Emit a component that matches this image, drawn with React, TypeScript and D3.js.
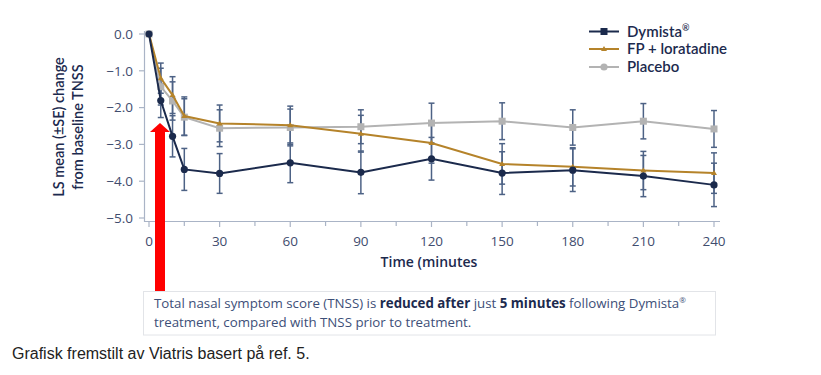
import React from "react";
import * as d3 from "d3";

const times = [0, 5, 10, 15, 30, 60, 90, 120, 150, 180, 210, 240];
const dymista = [0, -1.81, -2.78, -3.68, -3.79, -3.5, -3.76, -3.39, -3.78, -3.7, -3.86, -4.1];
const dymistaSE = [0, 0.46, 0.56, 0.57, 0.54, 0.54, 0.58, 0.58, 0.58, 0.58, 0.56, 0.59];
const fpLor = [0, -1.2, -1.66, -2.23, -2.43, -2.48, -2.71, -2.96, -3.53, -3.61, -3.71, -3.78];
const fpLorSE = [0, 0.41, 0.5, 0.52, 0.5, 0.52, 0.5, 0.55, 0.55, 0.52, 0.52, 0.55];
const placebo = [0, -1.43, -1.82, -2.26, -2.56, -2.54, -2.52, -2.42, -2.37, -2.54, -2.37, -2.58];
const placeboSE = [0, 0.5, 0.52, 0.5, 0.5, 0.5, 0.46, 0.54, 0.5, 0.48, 0.48, 0.5];
const yTicks = [0, -1, -2, -3, -4, -5];
const xTicks = [0, 30, 60, 90, 120, 150, 180, 210, 240];
const xMinorTicks = [15, 45, 75, 105, 135, 165, 195, 225];

const seriesNames = ["Dymista", "FP + loratadine", "Placebo"];
const seriesColors = ["#1b2a4c", "#b5832a", "#b3b3b3"];

const FONT = "'Open Sans', Lato, sans-serif";
const LFONT = "Lato, 'Open Sans', sans-serif";
const TXT = "#3f4d6e";
const NAVY = "#1c2a4e";
const AXIS = "#aab4c6";
const ERR = "#4d6285";

export default function App() {
  const x = d3.scaleLinear().domain([0, 240]).range([149, 714]);
  const y = d3.scaleLinear().domain([0, -5]).range([34, 218]);
  const line = d3
    .line<[number, number]>()
    .x((d) => x(d[0]))
    .y((d) => y(d[1]));

  const series = [
    { vals: dymista, se: dymistaSE, color: seriesColors[0], marker: "circle" },
    { vals: fpLor, se: fpLorSE, color: seriesColors[1], marker: "triangle" },
    { vals: placebo, se: placeboSE, color: seriesColors[2], marker: "square" },
  ];
  const drawOrder = [2, 1, 0];

  const marker = (kind: string, cx: number, cy: number, color: string, key: any) => {
    if (kind === "circle") return <circle key={key} cx={cx} cy={cy} r={3.6} fill={color} />;
    if (kind === "square")
      return <rect key={key} x={cx - 3.5} y={cy - 3.5} width={7} height={7} fill={color} />;
    return (
      <path
        key={key}
        d={`M${cx},${cy - 3} L${cx + 3},${cy + 2} L${cx - 3},${cy + 2} Z`}
        fill={color}
      />
    );
  };

  return (
    <svg
      width={821}
      height={375}
      style={{ position: "absolute", left: 0, top: 0, background: "#fff" }}
    >
      {/* Y axis */}
      <line x1={144.5} x2={144.5} y1={31} y2={222} stroke={AXIS} strokeWidth={1.2} />
      {yTicks.map((t) => (
        <g key={"yt" + t}>
          <line x1={139} x2={144.5} y1={y(t)} y2={y(t)} stroke={AXIS} strokeWidth={1.2} />
          <text
            x={133}
            y={y(t)}
            dy="0.35em"
            textAnchor="end"
            fontFamily={FONT}
            fontSize={13.5}
            fill={TXT}
          >
            {t === 0 ? "0.0" : "\u2212" + Math.abs(t).toFixed(1)}
          </text>
        </g>
      ))}
      {/* X axis */}
      <line x1={144} x2={720} y1={221.5} y2={221.5} stroke={AXIS} strokeWidth={1.2} />
      {xTicks.map((t) => (
        <g key={"xt" + t}>
          <line x1={x(t)} x2={x(t)} y1={221.5} y2={227} stroke={AXIS} strokeWidth={1.2} />
          <text
            x={x(t)}
            y={241}
            dy="0.35em"
            textAnchor="middle"
            fontFamily={FONT}
            fontSize={13.5}
            fill={TXT}
          >
            {t}
          </text>
        </g>
      ))}
      {xMinorTicks.map((t) => (
        <line
          key={"xm" + t}
          x1={x(t)}
          x2={x(t)}
          y1={221.5}
          y2={226}
          stroke={AXIS}
          strokeWidth={1.2}
        />
      ))}
      <text
        x={429}
        y={262}
        dy="0.35em"
        textAnchor="middle"
        fontFamily={FONT}
        fontSize={14}
        fontWeight={600}
        fill={NAVY}
      >
        Time (minutes
      </text>
      <g transform="translate(59,127) rotate(-90)">
        <text
          x={0}
          y={0}
          dy="0.35em"
          textAnchor="middle"
          fontFamily={LFONT}
          fontSize={14.5}
          fontWeight={600}
          fill={NAVY}
        >
          LS mean (±SE) change
        </text>
        <text
          x={0}
          y={18.5}
          dy="0.35em"
          textAnchor="middle"
          fontFamily={LFONT}
          fontSize={14.5}
          fontWeight={600}
          fill={NAVY}
        >
          from baseline TNSS
        </text>
      </g>

      {/* error bars */}
      {drawOrder.map((si) => {
        const s = series[si];
        return (
          <g key={"eb" + si}>
            {times.map((t, i) =>
              s.se[i] > 0 ? (
                <g key={i}>
                  <line
                    x1={x(t)}
                    x2={x(t)}
                    y1={y(s.vals[i] + s.se[i])}
                    y2={y(s.vals[i] - s.se[i])}
                    stroke={ERR}
                    strokeWidth={1.5}
                  />
                  <line
                    x1={x(t) - 3}
                    x2={x(t) + 3}
                    y1={y(s.vals[i] + s.se[i])}
                    y2={y(s.vals[i] + s.se[i])}
                    stroke={ERR}
                    strokeWidth={1.5}
                  />
                  <line
                    x1={x(t) - 3}
                    x2={x(t) + 3}
                    y1={y(s.vals[i] - s.se[i])}
                    y2={y(s.vals[i] - s.se[i])}
                    stroke={ERR}
                    strokeWidth={1.5}
                  />
                </g>
              ) : null
            )}
          </g>
        );
      })}

      {/* lines */}
      {drawOrder.map((si) => {
        const s = series[si];
        const pts = times.map((t, i) => [t, s.vals[i]] as [number, number]);
        return (
          <g key={"ln" + si}>
            <path d={line(pts) || ""} fill="none" stroke={s.color} strokeWidth={2} />
            {pts.map((p, i) => marker(s.marker, x(p[0]), y(p[1]), s.color, i))}
          </g>
        );
      })}

      {/* legend */}
      {seriesNames.map((name, i) => {
        const ly = [31.5, 49, 67][i];
        const kinds = ["square", "triangle", "circle"];
        return (
          <g key={"lg" + i}>
            <line x1={589} x2={619} y1={ly} y2={ly} stroke={seriesColors[i]} strokeWidth={2} />
            {marker(kinds[i], 604, ly, seriesColors[i], "m")}
            <text
              x={627}
              y={ly}
              dy="0.35em"
              fontFamily={LFONT}
              fontSize={15}
              fontWeight={600}
              fill={NAVY}
            >
              {name}
              {i === 0 ? (
                <tspan fontSize={9} dy="-0.6em">
                  ®
                </tspan>
              ) : null}
            </text>
          </g>
        );
      })}

      {/* red arrow */}
      <rect x={155} y={131} width={10} height={160} fill="#ff0000" />
      <path d="M160,123 L170,132 L150,132 Z" fill="#ff0000" />

      {/* note box */}
      <rect x={143.5} y={291.5} width={572} height={43.5} fill="#fff" stroke="#e2e4e8" strokeWidth={1} />
      <text x={154} y={303} dy="0.35em" fontFamily={FONT} fontSize={13.3} fill="#3d4f78">
        Total nasal symptom score (TNSS) is{" "}
        <tspan fontWeight={700} fill={NAVY}>
          reduced after
        </tspan>{" "}
        just{" "}
        <tspan fontWeight={700} fill={NAVY}>
          5 minutes
        </tspan>{" "}
        following Dymista
        <tspan fontSize={8} dy="-0.6em">
          ®
        </tspan>
      </text>
      <text x={154} y={322} dy="0.35em" fontFamily={FONT} fontSize={13.3} fill="#3d4f78">
        treatment, compared with TNSS prior to treatment.
      </text>

      <text
        x={12}
        y={353}
        dy="0.35em"
        fontFamily="'Liberation Sans', Arial, sans-serif"
        fontSize={16}
        fill="#222"
      >
        Grafisk fremstilt av Viatris basert på ref. 5.
      </text>
    </svg>
  );
}
